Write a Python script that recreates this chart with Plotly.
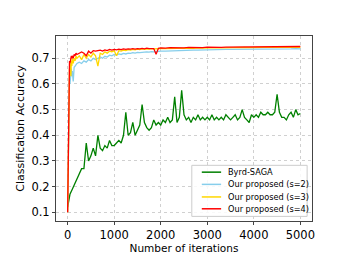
import plotly.graph_objects as go

# ---------------- data ----------------
byrd_iters = list(range(0, 5001, 50))
byrd_acc = [
    0.12, 0.17, 0.19, 0.21, 0.23, 0.25, 0.27, 0.27, 0.37, 0.30,
    0.32, 0.35, 0.32, 0.40, 0.35, 0.34, 0.36, 0.35, 0.38, 0.36,
    0.36, 0.37, 0.38, 0.37, 0.40, 0.49, 0.40, 0.41, 0.45, 0.40,
    0.42, 0.44, 0.52, 0.45, 0.43, 0.42, 0.43, 0.46, 0.44, 0.45,
    0.44, 0.46, 0.45, 0.47, 0.45, 0.46, 0.55, 0.45, 0.47, 0.575,
    0.48, 0.46, 0.47, 0.45, 0.47, 0.46, 0.48, 0.46, 0.47, 0.46,
    0.47, 0.46, 0.48, 0.46, 0.47, 0.46, 0.47, 0.46, 0.48, 0.47,
    0.46, 0.47, 0.48, 0.46, 0.47, 0.50, 0.47, 0.46, 0.45, 0.48,
    0.47, 0.48, 0.47, 0.49, 0.48, 0.48, 0.49, 0.48, 0.48, 0.49,
    0.56, 0.49, 0.47, 0.47, 0.46, 0.48, 0.49, 0.47, 0.50, 0.48,
    0.485,
]

prop_iters = ([0, 10, 20, 30, 40, 50, 60, 70, 80, 90, 100, 120, 140, 160, 180]
              + list(range(200, 2001, 50)) + list(range(2100, 5001, 100)))

acc_s2 = [
    0.10, 0.25, 0.45, 0.58, 0.62, 0.60, 0.64, 0.62, 0.66, 0.63, 0.65, 0.61, 0.665, 0.67, 0.675,
    0.68, 0.685, 0.68, 0.69, 0.685, 0.695, 0.69, 0.70, 0.695, 0.70, 0.705, 0.70, 0.708, 0.705,
    0.712, 0.71, 0.715, 0.713, 0.717, 0.715, 0.719, 0.717, 0.72, 0.719, 0.722, 0.72, 0.723,
    0.722, 0.724, 0.723, 0.725, 0.724, 0.726, 0.725, 0.727, 0.726, 0.728,
    0.728, 0.729, 0.73, 0.73, 0.731, 0.731, 0.732, 0.732, 0.733, 0.733, 0.734, 0.734, 0.734,
    0.735, 0.735, 0.735, 0.736, 0.735, 0.736, 0.736, 0.736, 0.737, 0.736, 0.737, 0.737, 0.737,
    0.737, 0.737, 0.738, 0.737,
]

acc_s3 = [
    0.10, 0.28, 0.50, 0.62, 0.66, 0.64, 0.68, 0.63, 0.69, 0.67, 0.70, 0.68, 0.70, 0.69, 0.71,
    0.70, 0.71, 0.695, 0.715, 0.70, 0.715, 0.705, 0.72, 0.71, 0.67, 0.72, 0.715, 0.725, 0.72,
    0.728, 0.725, 0.73, 0.71, 0.73, 0.728, 0.732, 0.73, 0.734, 0.732, 0.735, 0.733, 0.736,
    0.734, 0.737, 0.735, 0.737, 0.736, 0.738, 0.736, 0.738, 0.737, 0.739,
    0.738, 0.739, 0.738, 0.74, 0.739, 0.74, 0.739, 0.741, 0.74, 0.741, 0.741, 0.742, 0.741,
    0.742, 0.741, 0.742, 0.742, 0.743, 0.742, 0.743, 0.742, 0.743, 0.743, 0.743, 0.742, 0.743,
    0.743, 0.744, 0.743, 0.743,
]

acc_s4 = [
    0.10, 0.30, 0.55, 0.66, 0.69, 0.68, 0.70, 0.69, 0.71, 0.70, 0.71, 0.70, 0.715, 0.71, 0.72,
    0.715, 0.72, 0.725, 0.72, 0.71, 0.728, 0.72, 0.73, 0.728, 0.73, 0.732, 0.728, 0.733, 0.73,
    0.735, 0.732, 0.735, 0.733, 0.736, 0.734, 0.737, 0.735, 0.737, 0.736, 0.738, 0.736, 0.738,
    0.737, 0.739, 0.737, 0.74, 0.738, 0.739, 0.738, 0.716, 0.739, 0.741,
    0.74, 0.742, 0.741, 0.742, 0.741, 0.743, 0.742, 0.743, 0.742, 0.744, 0.743, 0.744, 0.743,
    0.744, 0.744, 0.745, 0.744, 0.745, 0.744, 0.745, 0.745, 0.746, 0.745, 0.746, 0.745, 0.746,
    0.745, 0.746, 0.745, 0.746,
]

series_names = ["Byrd-SAGA", "Our proposed (s=2)", "Our proposed (s=3)", "Our proposed (s=4)"]
series_colors = ["green", "#87CEEB", "#FFD700", "red"]
y_ticks = [0.1, 0.2, 0.3, 0.4, 0.5, 0.6, 0.7]
x_ticks = [0, 1000, 2000, 3000, 4000, 5000]

# ---------------- figure ----------------
fig = go.Figure()
for xs, ys, name, color in [
    (byrd_iters, byrd_acc, series_names[0], series_colors[0]),
    (prop_iters, acc_s2, series_names[1], series_colors[1]),
    (prop_iters, acc_s3, series_names[2], series_colors[2]),
    (prop_iters, acc_s4, series_names[3], series_colors[3]),
]:
    fig.add_trace(go.Scatter(x=xs, y=ys, mode="lines", name=name,
                             line=dict(color=color, width=1.3), showlegend=False))

# compact legend (matplotlib-like), drawn in paper coordinates
L_X0, L_X1, L_Y0, L_Y1 = 0.5305, 0.981, 0.025, 0.301
fig.add_shape(type="rect", xref="paper", yref="paper", x0=L_X0, x1=L_X1, y0=L_Y0, y1=L_Y1,
              line=dict(color="#cccccc", width=1), fillcolor="rgba(255,255,255,0.85)", layer="above")
entry_y = [0.264, 0.198, 0.130, 0.066]
for name, color, yy in zip(series_names, series_colors, entry_y):
    fig.add_shape(type="line", xref="paper", yref="paper", x0=0.5695, x1=0.645, y0=yy, y1=yy,
                  line=dict(color=color, width=1.5), layer="above")
    fig.add_annotation(xref="paper", yref="paper", x=0.663, y=yy, text=name, showarrow=False,
                       xanchor="left", yanchor="middle",
                       font=dict(family="DejaVu Sans", size=8.2, color="black"))

axis_common = dict(
    showline=True, linecolor="#444", linewidth=1, mirror=True,
    ticks="outside", ticklen=3, tickcolor="#444",
    showgrid=True, gridcolor="#d0d0d0", griddash="dot", gridwidth=0.8,
    zeroline=False,
    tickfont=dict(family="DejaVu Sans", size=11.5, color="black"),
)

fig.update_layout(
    width=338, height=253,
    margin=dict(l=42, r=34, t=28, b=29),
    paper_bgcolor="white", plot_bgcolor="white",
    font=dict(family="DejaVu Sans", color="black"),
    showlegend=False,
    xaxis=dict(range=[-250, 5250], tickvals=x_ticks,
               title=dict(text="Number of iterations", font=dict(size=10.5), standoff=0),
               **axis_common),
    yaxis=dict(range=[0.066, 0.787], tickvals=y_ticks,
               title=dict(text="Classification Accuracy", font=dict(size=11), standoff=4),
               **axis_common),
)

fig.write_html("out.html")
